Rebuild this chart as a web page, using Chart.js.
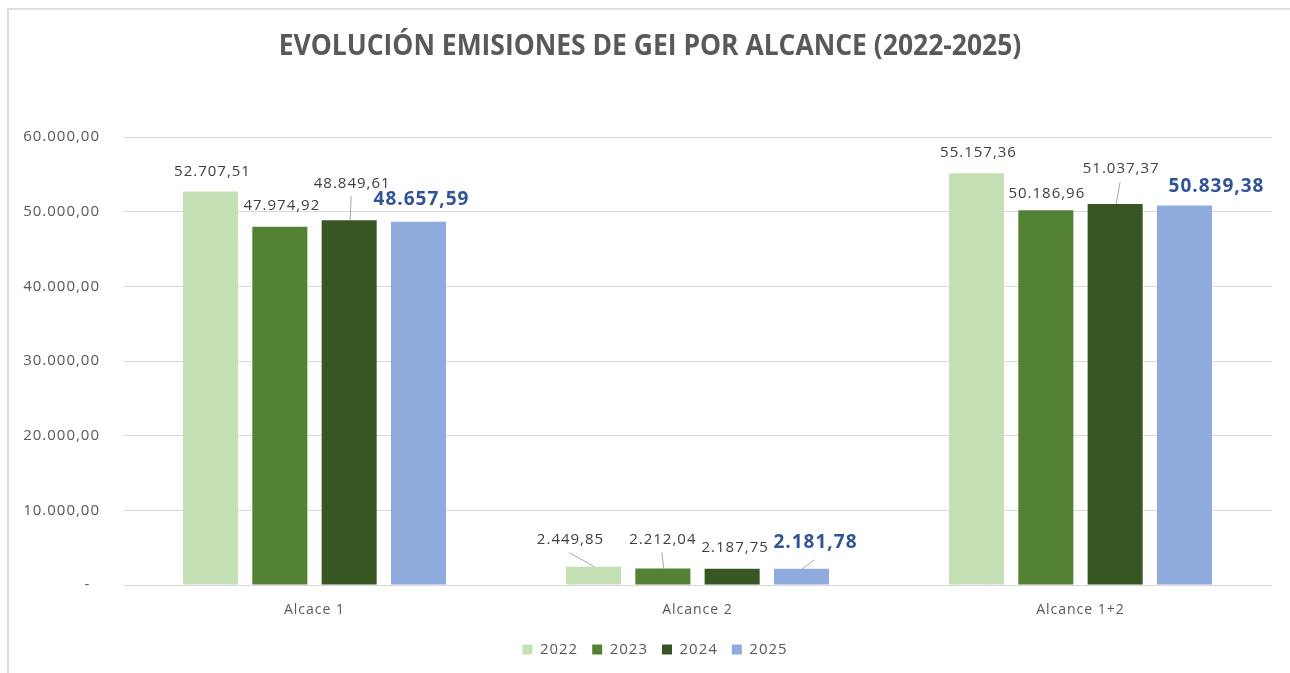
<!DOCTYPE html>
<html lang="es">
<head>
<meta charset="UTF-8" />
<title>Evolución emisiones de GEI por alcance</title>
<script src="https://cdn.jsdelivr.net/npm/chart.js"></script>
<style>
    body {
        margin: 0;
        background: #fff;
        overflow: hidden;
    }

    #marco {
        position: absolute;
        left: 7px;
        top: 8px;
        width: 1300px;
        height: 700px;
        border-top: 2px solid #dedede;
        border-left: 2px solid #dedede;
    }

    #contenedor {
        position: absolute;
        left: 0;
        top: 0;
        width: 1290px;
        height: 673px;
    }
</style>
</head>
<body>
<div id="marco"></div>
<div id="contenedor"><canvas id="grafico"></canvas></div>

<script>
    const titulo = 'EVOLUCIÓN EMISIONES DE GEI POR ALCANCE (2022-2025)';
    const categorias = ['Alcace 1', 'Alcance 2', 'Alcance 1+2'];
    const anios = ['2022', '2023', '2024', '2025'];
    const valores2022 = [52707.51, 2449.85, 55157.36];
    const valores2023 = [47974.92, 2212.04, 50186.96];
    const valores2024 = [48849.61, 2187.75, 51037.37];
    const valores2025 = [48657.59, 2181.78, 50839.38];
    const ticksY = [0, 10000, 20000, 30000, 40000, 50000, 60000];

    const colores = ['#C5E0B4', '#548235', '#375623', '#8FAADC'];

    // posición de cada etiqueta respecto al centro/tope de su barra (como en el Excel)
    const desplazamientos = [
        [[2, -20], [-23, -27], [2, -20]],
        [[2, -21], [0, -29], [1, -17]],
        [[3, -37], [3, -21], [6, -35]],
        [[3, -22], [14, -26], [32, -19]]
    ];
    const lineasGuia = [
        [false, true, false],
        [false, true, false],
        [true, false, true],
        [false, true, false]
    ];

    const fuente = 'Open Sans';
    const gris = '#595959';

    function formato(v) {
        return v.toLocaleString('de-DE', { minimumFractionDigits: 2, maximumFractionDigits: 2 });
    }

    const espaciado = {
        id: 'espaciado',
        beforeUpdate(chart) { chart.ctx.letterSpacing = '1px'; },
        beforeDraw(chart) { chart.ctx.letterSpacing = '1px'; },
        // la leyenda del Excel queda algo a la derecha del centro
        afterLayout(chart) { chart.legend.left += 38; }
    };

    const tituloPlugin = {
        id: 'tituloPlugin',
        beforeDraw(chart) {
            const ctx = chart.ctx;
            ctx.save();
            ctx.letterSpacing = '0px';
            ctx.font = 'bold 28px "' + fuente + '"';
            ctx.fillStyle = gris;
            ctx.textAlign = 'center';
            ctx.textBaseline = 'alphabetic';
            ctx.translate(650, 55);
            ctx.scale(0.945, 1);
            ctx.fillText(titulo, 0, 0);
            ctx.restore();
        }
    };

    const etiquetas = {
        id: 'etiquetas',
        afterDatasetsDraw(chart) {
            const ctx = chart.ctx;
            chart.data.datasets.forEach((ds, i) => {
                const meta = chart.getDatasetMeta(i);
                meta.data.forEach((barra, j) => {
                    const [dx, dy] = desplazamientos[i][j];
                    const x = barra.x + dx;
                    const y = barra.y + dy;
                    const destacado = i === 3;
                    ctx.save();
                    ctx.font = destacado ? 'bold 19px "' + fuente + '"' : '15px "' + fuente + '"';
                    ctx.fillStyle = destacado ? '#2F5597' : '#404040';
                    ctx.textAlign = 'center';
                    ctx.textBaseline = 'middle';
                    ctx.fillText(formato(ds.data[j]), x, y);
                    if (lineasGuia[i][j]) {
                        ctx.strokeStyle = '#A6A6A6';
                        ctx.lineWidth = 1;
                        ctx.beginPath();
                        ctx.moveTo(x - 1, y + (destacado ? 17 : 13));
                        ctx.lineTo(barra.x + 1, barra.y);
                        ctx.stroke();
                    }
                    ctx.restore();
                });
            });
        }
    };

    const series = [valores2022, valores2023, valores2024, valores2025];

    const ctx = document.getElementById('grafico').getContext('2d');
    const grafico = new Chart(ctx, {
        type: 'bar',
        data: {
            labels: categorias,
            datasets: series.map((valores, i) => ({
                label: anios[i],
                data: valores,
                backgroundColor: colores[i],
                borderWidth: 0,
                categoryPercentage: 0.724,
                barPercentage: 0.794
            }))
        },
        plugins: [espaciado, tituloPlugin, etiquetas],
        options: {
            responsive: true,
            maintainAspectRatio: false,
            animation: false,
            layout: {
                padding: { top: 137, right: 18, bottom: 6, left: 0 }
            },
            plugins: {
                title: { display: false },
                tooltip: { enabled: false },
                legend: {
                    position: 'bottom',
                    labels: {
                        boxWidth: 10,
                        boxHeight: 10,
                        padding: 14,
                        color: gris,
                        font: { family: fuente, size: 15 }
                    }
                }
            },
            scales: {
                x: {
                    grid: { display: false },
                    border: { display: false },
                    ticks: {
                        padding: 9,
                        color: gris,
                        font: { family: fuente, size: 14 }
                    },
                    afterFit(scale) { scale.height = 43; }
                },
                y: {
                    min: 0,
                    max: 60000,
                    grid: { color: '#D9D9D9', drawTicks: false },
                    border: { display: false },
                    afterBuildTicks(scale) {
                        scale.ticks = ticksY.map(v => ({ value: v }));
                    },
                    ticks: {
                        padding: 23,
                        color: gris,
                        font: { family: fuente, size: 15 },
                        callback: v => v === 0 ? '-  ' : formato(v)
                    },
                    afterFit(scale) { scale.width = 123; }
                }
            }
        }
    });
</script>
</body>
</html>
